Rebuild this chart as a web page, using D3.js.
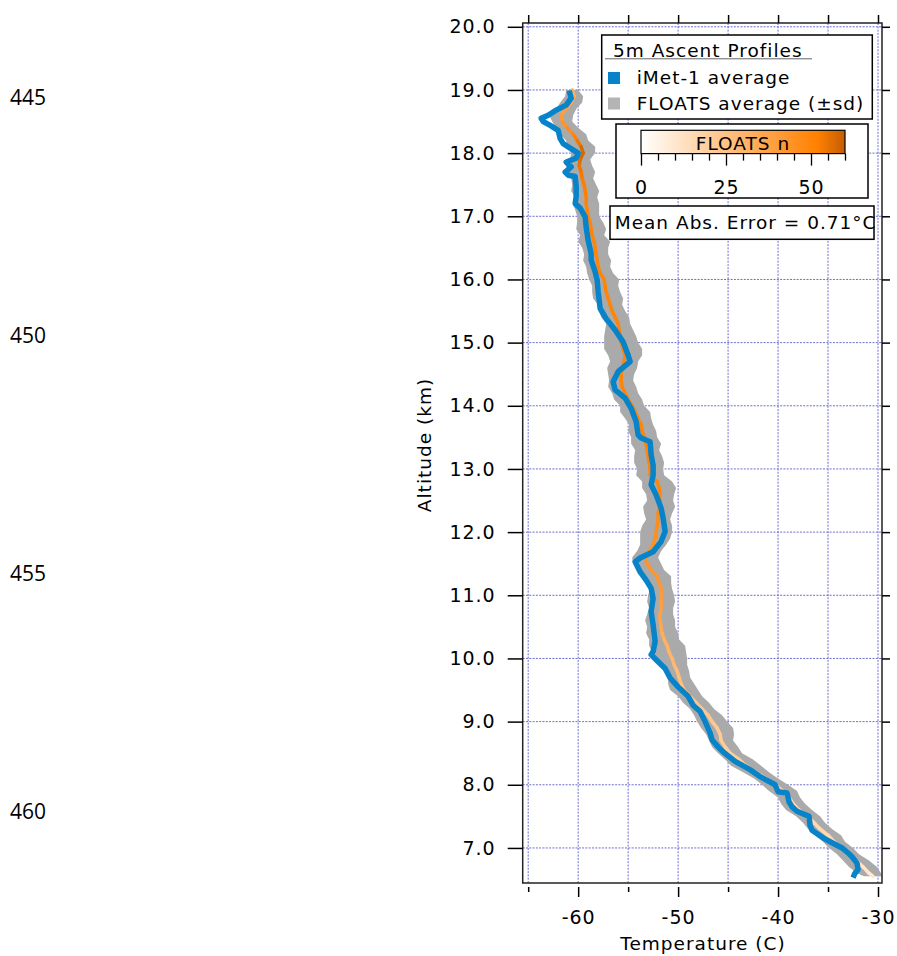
<!DOCTYPE html>
<html>
<head>
<meta charset="utf-8">
<script src="https://cdn.jsdelivr.net/npm/d3@7"></script>
<style>
  html, body { margin: 0; padding: 0; background: #fff; }
  svg { display: block; }
  .t { font-family: "DejaVu Sans", Verdana, sans-serif; letter-spacing: 1px; fill: #000; }
</style>
</head>
<body>
<svg id="chart" width="897" height="956"></svg>
<script>
// ---------------- DATA ----------------
const lineNumbers = ["445", "450", "455", "460"];

const xMajorTicks = [-60, -50, -40, -30];
const xMinorTicks = [-65, -55, -45, -35];
const xGridTicks = [-65, -60, -55, -50, -45, -40, -35, -30];
const yTicks = [7, 8, 9, 10, 11, 12, 13, 14, 15, 16, 17, 18, 19, 20];

const nMajorTicks = [0, 25, 50];
const nMinorTicks = [5, 10, 15, 20, 30, 35, 40, 45, 55, 60];

// iMet-1 average profile (altitude km, temperature C)
const imetAlt = [18.99, 18.87, 18.76, 18.68, 18.60, 18.55, 18.50, 18.44, 18.36, 18.23, 18.15, 18.08, 18.00,
  17.92, 17.86, 17.78, 17.70, 17.65, 17.63, 17.47, 17.31, 17.20, 17.13, 16.99, 16.83, 16.62, 16.41, 16.31,
  16.12, 15.99, 15.81, 15.54, 15.38, 15.20, 15.01, 14.80, 14.70, 14.54, 14.38, 14.25, 14.12, 13.96, 13.75,
  13.54, 13.49, 13.43, 13.22, 13.06, 12.90, 12.75, 12.59, 12.38, 12.22, 12.01, 11.85, 11.69, 11.59, 11.53,
  11.37, 11.24, 11.11, 10.95, 10.74, 10.53, 10.27, 10.11, 10.06, 9.98, 9.84, 9.69, 9.55, 9.40, 9.26, 9.16,
  9.00, 8.82, 8.71, 8.60, 8.52, 8.37, 8.24, 8.13, 8.00, 7.89, 7.87, 7.73, 7.65, 7.58, 7.50, 7.36, 7.28,
  7.15, 7.00, 6.92, 6.86, 6.76, 6.66, 6.60, 6.53];
const imetTemp = [-60.9, -60.7, -61.2, -62.2, -63.0, -63.7, -63.5, -62.8, -62.0, -61.8, -61.5, -60.8, -60.0,
  -60.2, -61.2, -60.7, -61.3, -61.0, -60.3, -60.2, -60.2, -60.3, -59.8, -59.3, -59.2, -59.0, -58.7, -58.7,
  -58.3, -58.1, -58.0, -57.8, -57.2, -56.3, -55.5, -55.0, -54.8, -56.0, -56.5, -56.3, -55.3, -54.7, -54.2,
  -54.0, -53.7, -52.8, -52.7, -52.5, -52.5, -52.7, -52.2, -51.7, -51.5, -51.3, -51.7, -52.5, -53.8, -54.3,
  -53.8, -53.2, -52.7, -52.5, -52.7, -52.5, -52.3, -52.5, -52.7, -52.2, -51.3, -50.8, -50.0, -49.0, -48.5, -47.8,
  -47.3, -46.8, -46.6, -46.0, -45.5, -44.3, -42.8, -41.8, -40.3, -40.0, -39.1, -38.9, -38.6, -38.1, -36.9, -36.8, -36.6,
  -35.4, -33.6, -33.0, -32.6, -32.1, -32.0, -32.3, -32.5];

// FLOATS average profile (altitude km, temperature C, standard deviation C, number of floats)
const fltAlt = [19.0, 18.9, 18.8, 18.7, 18.6, 18.5, 18.4, 18.3, 18.2, 18.1, 18.0, 17.9, 17.8, 17.7, 17.6,
  17.5, 17.4, 17.3, 17.2, 17.1, 17.0, 16.9, 16.8, 16.7, 16.6, 16.5, 16.4, 16.3, 16.2, 16.1, 16.0, 15.9,
  15.8, 15.7, 15.6, 15.5, 15.4, 15.3, 15.2, 15.1, 15.0, 14.9, 14.8, 14.7, 14.6, 14.5, 14.4, 14.3, 14.2,
  14.1, 14.0, 13.9, 13.8, 13.7, 13.6, 13.5, 13.4, 13.3, 13.2, 13.1, 13.0, 12.9, 12.8, 12.7, 12.6, 12.5,
  12.4, 12.3, 12.2, 12.1, 12.0, 11.9, 11.8, 11.7, 11.6, 11.5, 11.4, 11.3, 11.2, 11.1, 11.0, 10.9, 10.8,
  10.7, 10.6, 10.5, 10.4, 10.3, 10.2, 10.1, 10.0, 9.9, 9.8, 9.7, 9.6, 9.5, 9.4, 9.3, 9.2, 9.1, 9.0, 8.9,
  8.8, 8.7, 8.6, 8.5, 8.4, 8.3, 8.2, 8.1, 8.0, 7.9, 7.8, 7.7, 7.6, 7.5, 7.4, 7.3, 7.2, 7.1, 7.0, 6.9, 6.8,
  6.7, 6.6, 6.55];
const fltTemp = [-60.6, -60.4, -60.7, -61.2, -61.7, -61.6, -61.1, -60.5, -60.1, -59.7, -59.5, -59.8, -59.9, -59.7, -59.6,
  -59.4, -59.3, -59.2, -59.2, -59.1, -59.0, -58.8, -58.7, -58.6, -58.4, -58.3, -58.2, -58.1, -58.0, -57.8, -57.4, -57.3,
  -57.2, -57.0, -56.8, -56.6, -56.3, -56.0, -55.9, -55.8, -55.7, -55.5, -55.3, -55.4, -55.6, -55.7, -55.7, -55.6, -55.3,
  -55.0, -54.6, -54.3, -54.0, -53.7, -53.6, -53.4, -53.2, -53.1, -53.0, -52.9, -52.8, -52.8, -52.1, -51.9, -51.8, -51.8,
  -51.9, -52.0, -52.0, -52.1, -52.2, -52.3, -52.5, -52.9, -53.3, -53.1, -52.7, -52.1, -51.9, -51.7, -51.7, -51.7, -51.7,
  -51.8, -51.8, -51.7, -51.6, -51.4, -51.1, -50.9, -50.6, -50.4, -50.1, -49.9, -49.7, -49.4, -48.8, -48.2, -47.6, -47.0, -46.6, -46.1,
  -45.8, -45.7, -45.3, -44.8, -43.9, -43.2, -42.2, -41.2, -40.3, -39.5, -38.9, -38.5, -37.9, -37.0, -36.4, -35.8, -35.0, -34.4, -33.7, -33.0, -32.2,
  -31.5, -30.9, -30.5];
const fltSd = [0.6, 0.9, 1.1, 1.0, 1.2, 1.0, 1.1, 1.3, 1.1, 1.4, 1.2, 1.0, 1.3, 1.4, 1.1,
  1.2, 1.4, 1.1, 1.3, 1.2, 1.1, 1.3, 1.5, 1.2, 1.6, 1.3, 1.2, 1.4, 1.2, 1.3, 1.5, 1.3,
  1.4, 1.5, 1.2, 1.3, 1.4, 1.2, 1.4, 1.6, 1.7, 1.9, 1.7, 1.4, 1.5, 1.3, 1.2, 1.4, 1.3,
  1.4, 1.2, 1.5, 1.3, 1.2, 1.4, 1.3, 1.5, 1.2, 1.4, 1.5, 1.3, 1.4, 1.5, 1.7, 1.4, 1.3,
  1.6, 1.4, 1.2, 1.5, 1.6, 1.5, 1.3, 1.2, 1.3, 1.4, 1.3, 1.4, 1.2, 1.1, 1.3, 1.4, 1.2,
  1.3, 1.5, 1.4, 1.6, 1.5, 1.8, 1.7, 1.5, 1.3, 1.2, 1.1, 1.3, 1.4, 1.2, 1.3, 1.2, 1.4, 1.5, 1.6,
  1.4, 1.2, 1.3, 1.2, 1.4, 1.5, 1.3, 1.2, 1.3, 1.4, 1.1, 1.2, 1.3, 1.2, 1.1, 1.2, 1.3, 1.1, 1.2, 1.1, 1.3,
  1.4, 1.2, 0.9];
const fltN = [30, 33, 36, 38, 40, 42, 45, 48, 52, 56, 58, 57, 55, 54, 53,
  52, 52, 51, 51, 50, 50, 50, 50, 50, 50, 50, 50, 50, 50, 50, 50, 50,
  50, 50, 50, 50, 50, 50, 50, 50, 50, 50, 50, 50, 50, 50, 50, 50, 50,
  50, 50, 50, 50, 50, 50, 50, 50, 50, 50, 50, 50, 50, 49, 49, 49, 48,
  48, 48, 47, 47, 46, 46, 45, 45, 44, 44, 43, 43, 42, 42, 41, 40, 39,
  38, 37, 36, 34, 33, 32, 31, 30, 29, 28, 27, 26, 25, 25, 24, 24, 23, 23, 22,
  22, 21, 21, 20, 20, 20, 19, 19, 18, 18, 18, 17, 17, 17, 16, 16, 16, 15, 15, 14, 13,
  12, 10, 8];

const legendTitle = "5m Ascent Profiles";
const legendLabels = ["iMet-1 average", "FLOATS average (\u00b1sd)"];
const colorbarTitle = "FLOATS n";
const maeText = "Mean Abs. Error = 0.71\u00b0C";
const xTitle = "Temperature (C)";
const yTitle = "Altitude (km)";

// ---------------- DRAWING ----------------
const svg = d3.select("#chart");
const blue = "#0683c9";
const bandGray = "#aaaaaa";

const x = d3.scaleLinear().domain([-65.55, -29.6]).range([522.7, 882]);
const y = d3.scaleLinear().domain([6.445, 20.06]).range([883, 23]);
const nColor = d3.scaleLinear().domain([0, 52, 60]).range(["#ffffff", "#ff8000", "#c45c00"]);
const fmtInt = d => String(d);

// line numbers (document margin)
svg.selectAll(".ln").data(lineNumbers).join("text")
  .attr("x", 10).attr("y", (d, i) => 105 + i * 238)
  .style("font-family", "'Open Sans', Lato, sans-serif").style("font-size", "21px")
  .text(d => d);

// grid
const grid = svg.append("g");
grid.selectAll(".gx").data(xGridTicks).join("line")
  .attr("x1", d => x(d)).attr("x2", d => x(d)).attr("y1", y.range()[1]).attr("y2", y.range()[0])
  .attr("stroke", "#6d6dcf").attr("stroke-width", 1).attr("stroke-dasharray", "2,1.3");
grid.selectAll(".gy").data(yTicks).join("line")
  .attr("y1", d => y(d)).attr("y2", d => y(d)).attr("x1", x.range()[0]).attr("x2", x.range()[1])
  .attr("stroke", "#6d6dcf").attr("stroke-width", 1).attr("stroke-dasharray", "2,1.3");

// FLOATS band
const flt = fltAlt.map((a, i) => ({ a, t: fltTemp[i], sd: fltSd[i], n: fltN[i] }));
svg.append("path").datum(flt)
  .attr("d", d3.area().y(d => y(d.a)).x0(d => x(d.t - d.sd)).x1(d => x(d.t + d.sd)))
  .attr("fill", bandGray);

// FLOATS average coloured by n
const segs = d3.pairs(flt);
svg.append("g").selectAll("line").data(segs).join("line")
  .attr("x1", d => x(d[0].t)).attr("y1", d => y(d[0].a))
  .attr("x2", d => x(d[1].t)).attr("y2", d => y(d[1].a))
  .attr("stroke", d => nColor((d[0].n + d[1].n) / 2))
  .attr("stroke-width", 3.5).attr("stroke-linecap", "round");

// iMet-1 average
const imet = imetAlt.map((a, i) => ({ a, t: imetTemp[i] }));
svg.append("path").datum(imet)
  .attr("d", d3.line().x(d => x(d.t)).y(d => y(d.a)))
  .attr("fill", "none").attr("stroke", blue).attr("stroke-width", 5.5)
  .attr("stroke-linejoin", "round").attr("stroke-linecap", "butt");

// frame
svg.append("rect")
  .attr("x", x.range()[0]).attr("y", y.range()[1])
  .attr("width", x.range()[1] - x.range()[0]).attr("height", y.range()[0] - y.range()[1])
  .attr("fill", "none").attr("stroke", "#222").attr("stroke-width", 1.5);

function styleAxis(g) {
  g.select(".domain").remove();
  g.selectAll(".tick line").attr("stroke", "#000").attr("stroke-width", 1.5);
  g.selectAll(".tick text").attr("class", "t").style("font-size", "19px");
}

// bottom axis
svg.append("g").attr("transform", "translate(0,887)")
  .call(d3.axisBottom(x).tickValues(xMajorTicks).tickSize(10).tickPadding(14).tickFormat(fmtInt))
  .call(styleAxis);
svg.append("g").attr("transform", "translate(0,887)")
  .call(d3.axisBottom(x).tickValues(xMinorTicks).tickSize(5).tickFormat(""))
  .call(styleAxis);
// top axis
svg.append("g").attr("transform", "translate(0," + y.range()[1] + ")")
  .call(d3.axisTop(x).tickValues(xGridTicks).tickSize(8).tickFormat(""))
  .call(styleAxis);
// left axis
svg.append("g").attr("transform", "translate(" + x.range()[0] + ",0)")
  .call(d3.axisLeft(y).tickValues(yTicks).tickSize(15).tickPadding(12).tickFormat(d3.format(".1f")))
  .call(styleAxis);
// right axis
svg.append("g").attr("transform", "translate(" + x.range()[1] + ",0)")
  .call(d3.axisRight(y).tickValues(yTicks).tickSize(8).tickFormat(""))
  .call(styleAxis);

// axis titles
svg.append("text").attr("class", "t").attr("x", 703).attr("y", 950)
  .attr("text-anchor", "middle").style("font-size", "18.5px").text(xTitle);
svg.append("text").attr("class", "t")
  .attr("transform", "translate(431,445) rotate(-90)")
  .attr("text-anchor", "middle").style("font-size", "18.5px").text(yTitle);

// legend box
const lg = svg.append("g");
lg.append("rect").attr("x", 601.7).attr("y", 35).attr("width", 270.6).attr("height", 84)
  .attr("fill", "#fff").attr("stroke", "#000").attr("stroke-width", 1.5);
lg.append("text").attr("class", "t").attr("x", 613).attr("y", 56.5).style("font-size", "18.5px").text(legendTitle);
lg.append("line").attr("x1", 605).attr("x2", 812).attr("y1", 58.8).attr("y2", 58.8)
  .attr("stroke", "#666").attr("stroke-width", 1);
const legendColors = [blue, "#b4b4b4"];
legendLabels.forEach((lab, i) => {
  lg.append("rect").attr("x", 608).attr("y", 72 + i * 25.5).attr("width", 12).attr("height", 12)
    .attr("fill", legendColors[i]);
  lg.append("text").attr("class", "t").attr("x", 636.7).attr("y", 83.5 + i * 26)
    .style("font-size", "18.5px").text(lab);
});

// colorbar box
const cb = svg.append("g");
cb.append("rect").attr("x", 616).attr("y", 124).attr("width", 252).attr("height", 74)
  .attr("fill", "#fff").attr("stroke", "#000").attr("stroke-width", 1.5);
const nScale = d3.scaleLinear().domain([0, 60]).range([641, 845]);
const grad = svg.append("defs").append("linearGradient").attr("id", "ngrad")
  .attr("x1", "0%").attr("x2", "100%").attr("y1", "0%").attr("y2", "0%");
[0, 10, 20, 30, 40, 52, 60].forEach(v => {
  grad.append("stop").attr("offset", (v / 60 * 100) + "%").attr("stop-color", nColor(v));
});
cb.append("rect").attr("x", nScale(0)).attr("y", 130.3).attr("width", nScale(60) - nScale(0)).attr("height", 23.3)
  .attr("fill", "url(#ngrad)").attr("stroke", "#000").attr("stroke-width", 1.2);
cb.append("text").attr("class", "t").attr("x", (nScale(0) + nScale(60)) / 2).attr("y", 150)
  .attr("text-anchor", "middle").style("font-size", "18.5px").text(colorbarTitle);
cb.append("g").attr("transform", "translate(0,153.6)")
  .call(d3.axisBottom(nScale).tickValues(nMajorTicks).tickSize(12).tickPadding(15).tickFormat(fmtInt))
  .call(styleAxis);
cb.append("g").attr("transform", "translate(0,153.6)")
  .call(d3.axisBottom(nScale).tickValues(nMinorTicks).tickSize(7).tickFormat(""))
  .call(styleAxis);
cb.selectAll(".tick line").attr("stroke-width", 1.3);

// MAE box
const mb = svg.append("g");
mb.append("rect").attr("x", 610).attr("y", 206).attr("width", 264).attr("height", 33.3)
  .attr("fill", "#fff").attr("stroke", "#000").attr("stroke-width", 1.5);
mb.append("text").attr("class", "t").attr("x", 614.7).attr("y", 228.5).style("font-size", "18.5px").text(maeText);
</script>
</body>
</html>
